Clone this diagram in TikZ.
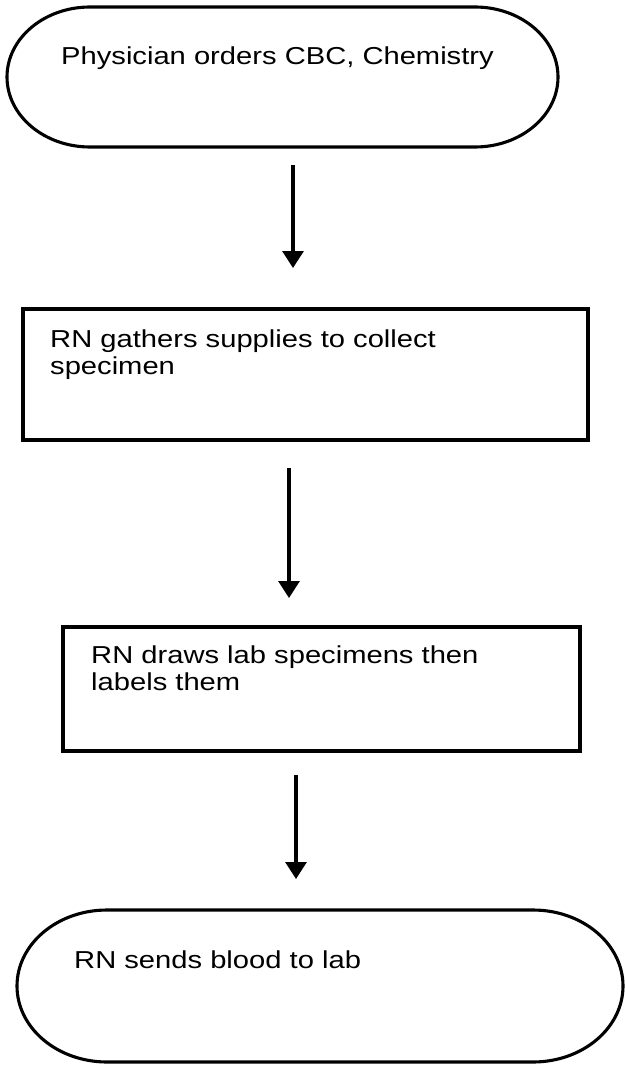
\documentclass[tikz,border=0pt]{standalone}
\usepackage{fontspec}
\setmainfont{Liberation Sans}[FakeStretch=1.19]
\usetikzlibrary{arrows.meta}
\begin{document}
\begin{tikzpicture}[x=1pt,y=-1pt,
  frame/.style={inner sep=0pt, outer sep=0pt},
  procbox/.style={frame, draw, line width=3.1pt},
  edgeline/.style={line width=3.1pt},
  lbl/.style={anchor=base west, inner sep=0pt, align=left,
    font=\fontsize{24.5pt}{27pt}\selectfont},
  arr/.style={line width=3.1pt, -{Triangle[width=21pt,length=17pt]}}]
\useasboundingbox (0,0) rectangle (624,1067);

% top terminal
\node[frame, minimum width=551pt, minimum height=140pt] (b1) at (282.5,77) {};
\draw[edgeline] ([xshift=83pt]b1.north west) -- ([xshift=-83pt]b1.north east)
  arc[start angle=90, end angle=-90, x radius=83pt, y radius=70pt]
  -- ([xshift=83pt]b1.south west)
  arc[start angle=270, end angle=90, x radius=83pt, y radius=70pt] -- cycle;
\node[lbl] (t1) at (61,65) {Physician orders CBC, Chemistry};

% process 1
\node[procbox, minimum width=565pt, minimum height=131pt] (b2) at (305.5,374.5) {};
\node[lbl] (t2) at (50,374) {RN gathers supplies to collect\\specimen};

% process 2
\node[procbox, minimum width=517pt, minimum height=124pt] (b3) at (321.5,689) {};
\node[lbl] (t3) at (91,690) {RN draws lab specimens then\\labels them};

% bottom terminal
\node[frame, minimum width=606pt, minimum height=152pt] (b4) at (320,986) {};
\draw[edgeline] ([xshift=90pt]b4.north west) -- ([xshift=-90pt]b4.north east)
  arc[start angle=90, end angle=-90, x radius=90pt, y radius=76pt]
  -- ([xshift=90pt]b4.south west)
  arc[start angle=270, end angle=90, x radius=90pt, y radius=76pt] -- cycle;
\node[lbl] (t4) at (74,968) {RN sends blood to lab};

% connectors
\coordinate (c1s) at (293,165);
\coordinate (c1e) at (293,268);
\coordinate (c2s) at (289,468);
\coordinate (c2e) at (289,598);
\coordinate (c3s) at (296,775);
\coordinate (c3e) at (296,879);
\draw[arr] (c1s) -- (c1e);
\draw[arr] (c2s) -- (c2e);
\draw[arr] (c3s) -- (c3e);
\end{tikzpicture}
\end{document}
